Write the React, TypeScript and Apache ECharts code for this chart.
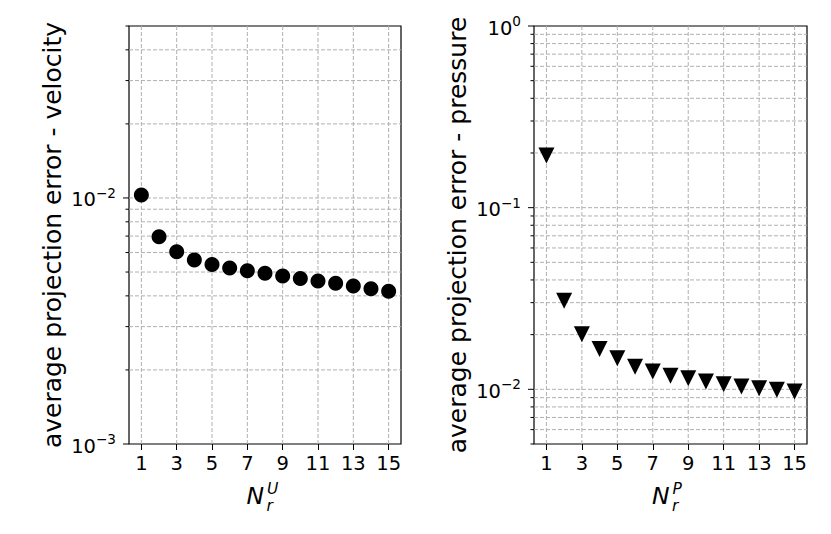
import React, { useEffect, useRef } from "react";
import * as echarts from "echarts";

// ---- data ----
const modes = [1, 2, 3, 4, 5, 6, 7, 8, 9, 10, 11, 12, 13, 14, 15];
const velocityError = [
  1.028e-2, 6.95e-3, 6.04e-3, 5.6e-3, 5.36e-3, 5.19e-3, 5.06e-3, 4.94e-3,
  4.82e-3, 4.71e-3, 4.6e-3, 4.5e-3, 4.39e-3, 4.28e-3, 4.18e-3,
];
const pressureError = [
  0.1934, 0.0307, 0.0201, 0.01666, 0.01482, 0.0133, 0.01252, 0.01187, 0.0115,
  0.01104, 0.01065, 0.01036, 0.01013, 0.00994, 0.00973,
];
const xTicks = [1, 3, 5, 7, 9, 11, 13, 15];
const X_MIN = 0.3;
const X_MAX = 15.7;
const leftYRange = [1e-3, 5e-2];
const rightYRange = [5e-3, 1];
const leftMajor = [1e-3, 1e-2];
const leftMinor = [2e-3, 3e-3, 4e-3, 5e-3, 6e-3, 7e-3, 8e-3, 9e-3, 2e-2, 3e-2, 4e-2, 5e-2];
const rightMajor = [1e-2, 1e-1, 1];
const rightMinor = [
  5e-3, 6e-3, 7e-3, 8e-3, 9e-3, 2e-2, 3e-2, 4e-2, 5e-2, 6e-2, 7e-2, 8e-2, 9e-2,
  2e-1, 3e-1, 4e-1, 5e-1, 6e-1, 7e-1, 8e-1, 9e-1,
];

const FONT = "DejaVu Sans";
const GRID_COLOR = "#b0b0b0";

function hLines(idx: number, values: number[], range: number[]) {
  const inner = values.filter((v) => v > range[0] * 1.0001 && v < range[1] * 0.9999);
  return {
    type: "custom",
    xAxisIndex: idx,
    yAxisIndex: idx,
    z: 1,
    silent: true,
    data: inner.map((v) => [X_MIN, v]),
    renderItem: (_p: any, api: any) => {
      const v = api.value(1);
      const a = api.coord([X_MIN, v]);
      const b = api.coord([X_MAX, v]);
      return {
        type: "line",
        shape: { x1: a[0], y1: a[1], x2: b[0], y2: b[1] },
        style: { stroke: GRID_COLOR, lineWidth: 1, lineDash: [4, 2] },
      };
    },
  };
}

function vLines(idx: number, range: number[]) {
  return {
    type: "custom",
    xAxisIndex: idx,
    yAxisIndex: idx,
    z: 1,
    silent: true,
    data: xTicks.map((x) => [x, range[0]]),
    renderItem: (_p: any, api: any) => {
      const x = api.value(0);
      const a = api.coord([x, range[0]]);
      const b = api.coord([x, range[1]]);
      return {
        type: "line",
        shape: { x1: a[0], y1: a[1], x2: b[0], y2: b[1] },
        style: { stroke: GRID_COLOR, lineWidth: 1, lineDash: [4, 2] },
      };
    },
  };
}

function yTicks(idx: number, major: number[], minor: number[]) {
  const data = [
    ...major.map((v) => [X_MIN, v, 6]),
    ...minor.map((v) => [X_MIN, v, 3.5]),
  ];
  return {
    type: "custom",
    xAxisIndex: idx,
    yAxisIndex: idx,
    z: 3,
    silent: true,
    data,
    renderItem: (_p: any, api: any) => {
      const v = api.value(1);
      const len = api.value(2);
      const a = api.coord([X_MIN, v]);
      return {
        type: "line",
        shape: { x1: a[0] - len, y1: a[1], x2: a[0], y2: a[1] },
        style: { stroke: "#000", lineWidth: 1 },
      };
    },
  };
}

function logLabel(value: number) {
  const e = Math.log10(value);
  const r = Math.round(e);
  if (Math.abs(e - r) > 1e-6) return "";
  const exp = r < 0 ? "\u2212" + String(-r) : String(r);
  return `{b|10}{s|${exp}}`;
}

const rich = {
  b: { fontSize: 19.5, fontFamily: FONT, color: "#000", verticalAlign: "bottom", lineHeight: 24 },
  s: { fontSize: 13.6, fontFamily: FONT, color: "#000", verticalAlign: "top", lineHeight: 14 },
};

function xAxis(idx: number) {
  return {
    type: "value",
    gridIndex: idx,
    min: X_MIN,
    max: X_MAX,
    axisLine: { show: false },
    axisTick: {
      show: true,
      customValues: xTicks,
      length: 6,
      lineStyle: { color: "#000", width: 1 },
    },
    axisLabel: {
      customValues: xTicks,
      fontSize: 19.5,
      fontFamily: FONT,
      color: "#000",
      margin: 9,
    },
    splitLine: { show: false },
  };
}

function yAxis(idx: number, range: number[], name: string) {
  return {
    type: "log",
    logBase: 10,
    gridIndex: idx,
    min: range[0],
    max: range[1],
    axisLine: { show: false },
    axisTick: { show: false },
    splitLine: { show: false },
    minorTick: { show: false },
    axisLabel: { formatter: logLabel, rich, margin: 13 },
    name,
    nameLocation: "middle",
    nameGap: 64,
    nameTextStyle: { fontSize: 25, fontFamily: FONT, color: "#000" },
  };
}

function xLabel(cx: number, sup: string) {
  return {
    type: "group",
    children: [
      {
        type: "text",
        x: cx - 18.5,
        y: 495.5,
        style: { text: "N", font: `italic 23.5px "${FONT}"`, fill: "#000", verticalAlign: "middle" },
      },
      {
        type: "text",
        x: cx + 2,
        y: 488.5,
        style: { text: sup, font: `italic 15.5px "${FONT}"`, fill: "#000", verticalAlign: "middle" },
      },
      {
        type: "text",
        x: cx + 1.5,
        y: 505.5,
        style: { text: "r", font: `italic 15.5px "${FONT}"`, fill: "#000", verticalAlign: "middle" },
      },
    ],
  };
}

export default function App() {
  const ref = useRef<HTMLDivElement>(null);
  useEffect(() => {
    if (!ref.current) return;
    const chart = echarts.init(ref.current, null, { renderer: "svg" });
    const grids = [
      { left: 129, top: 26, width: 272, height: 418 },
      { left: 534, top: 26, width: 273, height: 418 },
    ].map((g) => ({ ...g, show: true, borderColor: "#000", borderWidth: 1.2, backgroundColor: "transparent" }));
    chart.setOption({
      animation: false,
      backgroundColor: "#fff",
      grid: grids,
      xAxis: [xAxis(0), xAxis(1)],
      yAxis: [
        yAxis(0, leftYRange, "average projection error - velocity"),
        yAxis(1, rightYRange, "average projection error - pressure"),
      ],
      graphic: [xLabel(265, "U"), xLabel(670.5, "P")],
      series: [
        vLines(0, leftYRange),
        hLines(0, [...leftMajor, ...leftMinor], leftYRange),
        yTicks(0, leftMajor, leftMinor),
        vLines(1, rightYRange),
        hLines(1, [...rightMajor, ...rightMinor], rightYRange),
        yTicks(1, rightMajor, rightMinor),
        {
          type: "scatter",
          xAxisIndex: 0,
          yAxisIndex: 0,
          z: 5,
          symbol: "circle",
          symbolSize: 15,
          itemStyle: { color: "#000", opacity: 1 },
          data: modes.map((m, i) => [m, velocityError[i]]),
        },
        {
          type: "scatter",
          xAxisIndex: 1,
          yAxisIndex: 1,
          z: 5,
          symbol: "triangle",
          symbolRotate: 180,
          symbolSize: 16,
          itemStyle: { color: "#000", opacity: 1 },
          data: modes.map((m, i) => [m, pressureError[i]]),
        },
      ],
    });
    return () => chart.dispose();
  }, []);
  return (
    <div
      ref={ref}
      style={{ position: "absolute", left: 0, top: 0, width: 831, height: 534 }}
    />
  );
}
